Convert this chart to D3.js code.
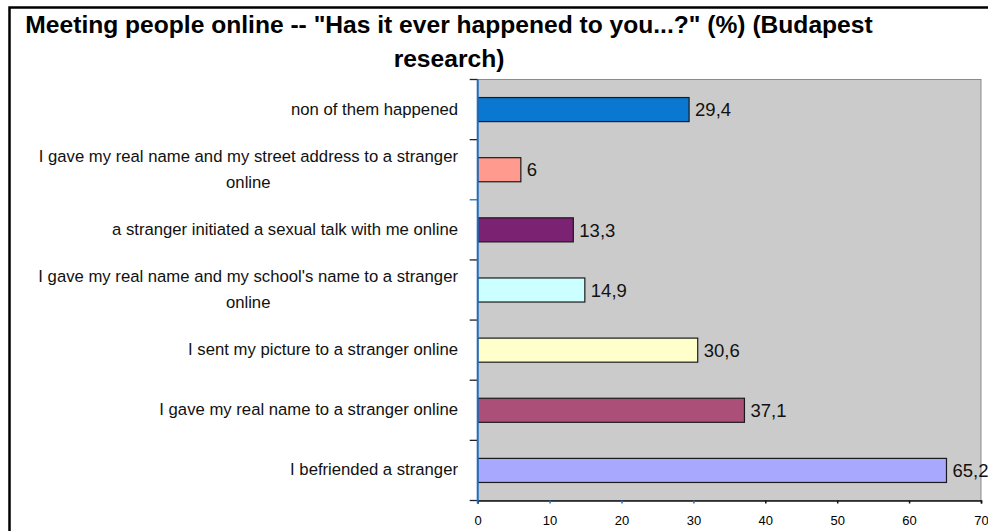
<!DOCTYPE html>
<html>
<head>
<meta charset="utf-8">
<script src="https://cdn.jsdelivr.net/npm/d3@7"></script>
<style>
  html, body { margin: 0; padding: 0; background: #ffffff; }
  svg { display: block; font-family: "Liberation Sans", Arial, sans-serif; }
</style>
</head>
<body>
<svg id="chart" width="988" height="531"></svg>
<script>
const titleLines = ['Meeting people online -- "Has it ever happened to you...?" (%) (Budapest', 'research)'];
const categories = [
  "non of them happened",
  "I gave my real name and my street address to a stranger online",
  "a stranger initiated a sexual talk with me online",
  "I gave my real name and my school's name to a stranger online",
  "I sent my picture to a stranger online",
  "I gave my real name to a stranger online",
  "I befriended a stranger"
];
const values = [29.4, 6, 13.3, 14.9, 30.6, 37.1, 65.2];
const xTicks = [0, 10, 20, 30, 40, 50, 60, 70];
const barColors = ["#0a78d0", "#ff9b8e", "#7b2272", "#ccffff", "#ffffcc", "#ab4f78", "#a8a8ff"];

const svg = d3.select("#chart");
const plot = { left: 477.7, right: 981, top: 79.5, bottom: 500.5 };

const locale = d3.formatLocale({ decimal: ",", thousands: ".", grouping: [3], currency: ["", ""] });
const fmt = v => locale.format("~r")(v);

// outer frame
svg.append("rect").attr("x", 9.5).attr("y", 7.5).attr("width", 1200).attr("height", 1200)
  .attr("fill", "#ffffff").attr("stroke", "#000").attr("stroke-width", 2.5);

// title
const title = svg.append("g");
titleLines.forEach((t, i) => {
  title.append("text").attr("x", 449).attr("y", 32.5 + i * 34.5)
    .attr("text-anchor", "middle").attr("font-weight", "bold").attr("font-size", 24.6)
    .attr("fill", "#000").text(t);
});

const x = d3.scaleLinear().domain([0, 70]).range([plot.left, plot.right]);
const y = d3.scaleBand().domain(categories).range([plot.top, plot.bottom]).paddingInner(0.6).paddingOuter(0.3);

// plot background
svg.append("rect").attr("x", plot.left).attr("y", plot.top)
  .attr("width", plot.right - plot.left).attr("height", plot.bottom - plot.top)
  .attr("fill", "#cbcbcb").attr("stroke", "#8a8a8a").attr("stroke-width", 1);

// bars
const data = categories.map((c, i) => ({ c, v: values[i], color: barColors[i] }));
svg.append("g").selectAll("rect").data(data).join("rect")
  .attr("x", x(0)).attr("y", d => y(d.c))
  .attr("width", d => x(d.v) - x(0)).attr("height", y.bandwidth())
  .attr("fill", d => d.color).attr("stroke", "#1a1a1a").attr("stroke-width", 1.2);

// value labels
svg.append("g").selectAll("text").data(data).join("text")
  .attr("x", d => x(d.v) + 6).attr("y", d => y(d.c) + y.bandwidth() / 2)
  .attr("dy", "0.36em").attr("font-size", 18.5).attr("fill", "#111")
  .text(d => fmt(d.v));

// x axis
const xAxis = d3.axisBottom(x).tickValues(xTicks).tickSize(3).tickPadding(12).tickFormat(d3.format("d"));
const gx = svg.append("g").attr("transform", `translate(0,${plot.bottom})`).call(xAxis);
gx.select(".domain").attr("stroke", "#111").attr("stroke-width", 1.5);
gx.selectAll(".tick line").attr("stroke", (d, i) => (i >= 1 && i <= 3) ? "#1f6fc0" : "#111").attr("stroke-width", 1.5);
gx.selectAll(".tick text").attr("font-size", 13).attr("fill", "#000").attr("font-family", "Liberation Sans, Arial, sans-serif");

// y axis: ticks at band boundaries
const gy = svg.append("g");
gy.selectAll("line.tk").data(d3.range(categories.length + 1)).join("line")
  .attr("class", "tk")
  .attr("x1", plot.left - 8).attr("x2", plot.left)
  .attr("y1", i => plot.top + (plot.bottom - plot.top) * i / categories.length)
  .attr("y2", i => plot.top + (plot.bottom - plot.top) * i / categories.length)
  .attr("stroke", (i) => i === 2 ? "#1f6fc0" : "#222").attr("stroke-width", 1.3);
gy.append("line").attr("x1", plot.left).attr("x2", plot.left)
  .attr("y1", plot.top).attr("y2", plot.bottom + 3)
  .attr("stroke", "#1f6fc0").attr("stroke-width", 2);

// category labels with wrapping
const labelRight = 458, maxW = 450, lineH = 26;
const lg = svg.append("g").attr("font-size", 16.7).attr("fill", "#111");
categories.forEach(c => {
  const words = c.split(" ");
  const probe = lg.append("text").attr("visibility", "hidden");
  const lines = [];
  let cur = [];
  words.forEach(w => {
    const test = cur.concat([w]).join(" ");
    probe.text(test);
    if (probe.node().getComputedTextLength() > maxW && cur.length) {
      lines.push(cur.join(" "));
      cur = [w];
    } else cur.push(w);
  });
  lines.push(cur.join(" "));
  const widths = lines.map(l => { probe.text(l); return probe.node().getComputedTextLength(); });
  probe.remove();
  const wmax = d3.max(widths);
  const cx = labelRight - wmax / 2;
  const cy = y(c) + y.bandwidth() / 2;
  lines.forEach((l, i) => {
    lg.append("text").attr("x", cx).attr("text-anchor", "middle")
      .attr("y", cy + (i - (lines.length - 1) / 2) * lineH)
      .attr("dy", "0.3em").text(l);
  });
});
</script>
</body>
</html>
